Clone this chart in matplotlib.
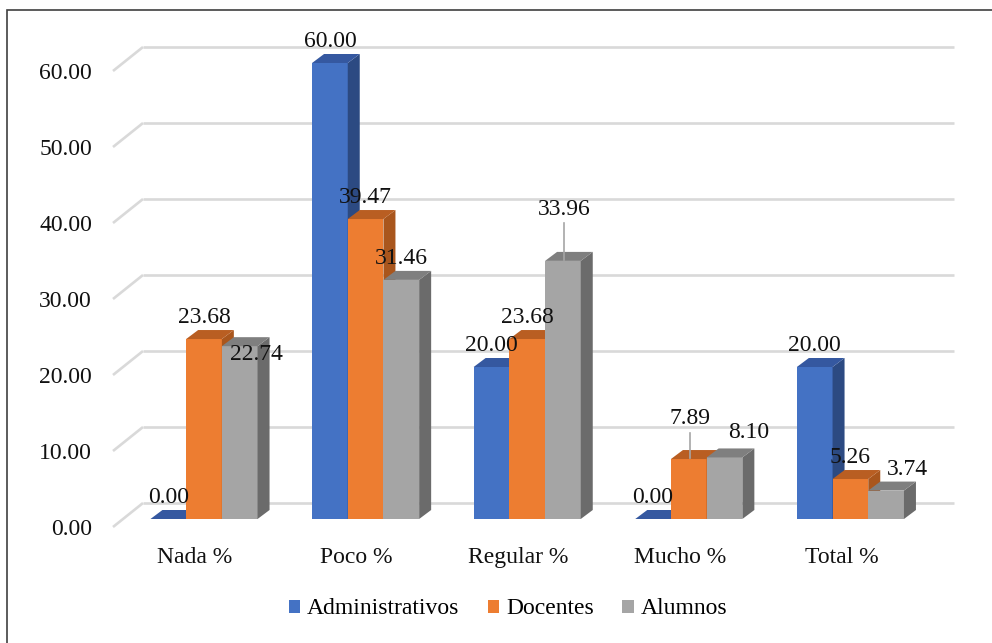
import matplotlib
matplotlib.use('Agg')
import matplotlib.pyplot as plt
from matplotlib.patches import Polygon, Rectangle, Patch

# ---------------- data ----------------
categories = ['Nada %', 'Poco %', 'Regular %', 'Mucho %', 'Total %']
series_names = ['Administrativos', 'Docentes', 'Alumnos']
administrativos = [0.00, 60.00, 20.00, 0.00, 20.00]
docentes = [23.68, 39.47, 23.68, 7.89, 5.26]
alumnos = [22.74, 31.46, 33.96, 8.10, 3.74]
ytick_values = [0, 10, 20, 30, 40, 50, 60]
ytick_labels = ['0.00', '10.00', '20.00', '30.00', '40.00', '50.00', '60.00']

# ---------------- style ----------------
FONT = ['Liberation Serif', 'DejaVu Serif']
FS = 17
front_colors = ['#4472C4', '#ED7D31', '#A5A5A5']
top_colors = ['#3558A0', '#B95E22', '#7F7F7F']
side_colors = ['#2C4A82', '#A9561D', '#6B6B6B']
grid_color = '#D9D9D9'

W, H = 992, 643
X0, DXC = 204.0, 161.6     # pixel of category 0 centre, pixels per category
Y0, DYV = 519.0, 7.6       # pixel of value 0 (front of bars), pixels per unit
UX, UY = 1.0 / DXC, 1.0 / DYV
xlim = (-0.65, 4.8)
ylim = (-4.0, 64.0)

fig = plt.figure(figsize=(W / 100, H / 100), dpi=100)
left_px = X0 + xlim[0] * DXC
right_px = X0 + xlim[1] * DXC
top_px = Y0 - ylim[1] * DYV
bottom_px = Y0 - ylim[0] * DYV
ax = fig.add_axes([left_px / W, 1 - bottom_px / H,
                   (right_px - left_px) / W, (bottom_px - top_px) / H])
ax.set_xlim(*xlim)
ax.set_ylim(*ylim)
ax.axis('off')

# depth offsets
bar_w = 35.7 * UX
bdx, bdy = 12 * UX, 9 * UY               # bar depth
wall_x0 = (143 - X0) * UX
wall_x1 = (954 - X0) * UX
front_x = (113 - X0) * UX
wall_dy = 16 * UY                          # back wall above bar front
front_dy = -8 * UY                         # front edge of floor

# gridlines (back wall + slanted side wall)
for v, lab in zip(ytick_values, ytick_labels):
    ax.plot([wall_x0, wall_x1], [v + wall_dy, v + wall_dy], color=grid_color,
            lw=1.9, zorder=1, solid_capstyle='butt')
    ax.plot([front_x, wall_x0], [v + front_dy, v + wall_dy], color=grid_color,
            lw=1.9, zorder=1, solid_capstyle='butt')
    ax.annotate(lab, xy=(front_x, v + front_dy),
                xytext=(-21, -8), textcoords='offset pixels', ha='right',
                va='baseline', fontsize=FS, family=FONT, color='#111111')

series = [administrativos, docentes, alumnos]

# label nudges in pixels (dx right, dy down) and leader lines
nudges = {(2, 0): (17, 30), (2, 2): (1, -30), (1, 3): (1, -19),
          (2, 3): (24, -3), (2, 4): (21, 0)}
leaders = {(2, 2), (1, 3)}

for k, vals in enumerate(series):
    xs = [i + (k - 1) * bar_w for i in range(len(categories))]
    z = 3 + k
    ax.bar(xs, vals, width=bar_w, color=front_colors[k], lw=0, zorder=z)
    for i, (xc, v) in enumerate(zip(xs, vals)):
        xl, xr = xc - bar_w / 2, xc + bar_w / 2
        if v > 0:
            ax.add_patch(Polygon([(xr, 0), (xr + bdx, bdy), (xr + bdx, v + bdy), (xr, v)],
                                 closed=True, facecolor=side_colors[k], lw=0, zorder=z))
        ax.add_patch(Polygon([(xl, v), (xr, v), (xr + bdx, v + bdy), (xl + bdx, v + bdy)],
                             closed=True, facecolor=top_colors[k], lw=0, zorder=z))
        ndx, ndy = nudges.get((k, i), (0, 0))
        ax.annotate(f'{v:.2f}', xy=(xc, v), xytext=(ndx, 16 - ndy),
                    textcoords='offset pixels', ha='center', va='baseline',
                    fontsize=FS, family=FONT, color='#111111', zorder=20)
        if (k, i) in leaders:
            lx = xc + ndx * UX
            y_top = v + (7.5 - ndy) * UY
            ax.plot([lx, lx], [v + 1 * UY, y_top], color='#A6A6A6', lw=1.2, zorder=19)

# category labels
for i, c in enumerate(categories):
    ax.annotate(c, xy=(i, 0), xytext=(-9, -44), textcoords='offset pixels',
                ha='center', va='baseline', fontsize=FS, family=FONT, color='#111111')

# legend
handles = [Patch(facecolor=front_colors[k], edgecolor='none', label=series_names[k])
           for k in range(3)]
fig.legend(handles=handles, loc='center', bbox_to_anchor=(508 / W, 1 - 609 / H),
           ncol=3, frameon=False, handlelength=0.48, handleheight=0.48,
           handletextpad=0.3, columnspacing=1.2, prop={'family': FONT, 'size': FS})

# chart border
fig.add_artist(Rectangle((7 / W, -0.5), 2, 1 - 10 / H + 0.5, transform=fig.transFigure,
                         fill=False, edgecolor='#404040', lw=1.2))

fig.savefig('out.png', dpi=100)
